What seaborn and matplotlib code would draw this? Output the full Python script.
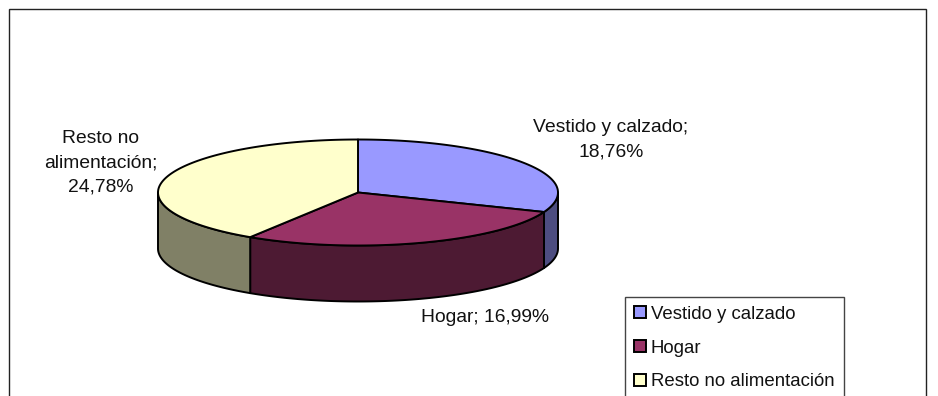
import numpy as np
import matplotlib
matplotlib.use("Agg")
import matplotlib.pyplot as plt
from matplotlib.patches import Patch, Polygon, Rectangle
import seaborn as sns

categories = ["Vestido y calzado", "Hogar", "Resto no alimentación"]
values = [18.76, 16.99, 24.78]
data_labels = ["Vestido y calzado;\n18,76%", "Hogar; 16,99%", "Resto no\nalimentación;\n24,78%"]
top_colors = ["#9999FF", "#993366", "#FFFFCC"]
side_colors = ["#4D4D80", "#4D1A33", "#808066"]

sns.set_theme(style="white")
plt.rcParams["font.family"] = ["Liberation Sans", "DejaVu Sans"]
palette = sns.color_palette(top_colors)

W, H = 938, 396
fig = plt.figure(figsize=(W / 100, H / 100), dpi=100, facecolor="white")
ax = fig.add_axes([0, 0, 1, 1])
ax.set_xlim(0, W)
ax.set_ylim(H, 0)
ax.axis("off")

FS = 13.4
LABEL_FS = 13.9
CX, CY, RX, RY, DEPTH = 358, 192.5, 200, 53, 56

ax.add_patch(Rectangle((9, 9), 917, 500, fc="white", ec="#222222", lw=1.0))


def rim(a0, a1, dy=0.0):
    t = np.radians(np.linspace(a0, a1, 120))
    return np.column_stack([CX + RX * np.sin(t), CY - RY * np.cos(t) + dy])


edges = np.concatenate([[0], np.cumsum(values)]) / np.sum(values) * 360

# walls, visible only on the front half of the rim
for i in range(len(values)):
    a0, a1 = max(edges[i], 90), min(edges[i + 1], 270)
    if a1 > a0:
        pts = np.vstack([rim(a0, a1), rim(a0, a1, DEPTH)[::-1]])
        ax.add_patch(Polygon(pts, closed=True, fc=side_colors[i], ec="black", lw=1.4, joinstyle="round"))

# top faces
for i in range(len(values)):
    pts = np.vstack([[[CX, CY]], rim(edges[i], edges[i + 1])])
    ax.add_patch(Polygon(pts, closed=True, fc=palette[i], ec="black", lw=1.4, joinstyle="round"))

text_kw = dict(ha="center", va="center", fontsize=LABEL_FS, color="#111111", linespacing=1.56)
ax.text(611, 140, data_labels[0], **text_kw)
ax.text(485, 317, data_labels[1], **text_kw)
ax.text(101, 162.5, data_labels[2], **text_kw)

handles = [Patch(fc=c, ec="black", lw=1.4) for c in palette]
leg = ax.legend(
    handles, categories, loc="upper left",
    bbox_to_anchor=(625 / W, 1 - 296.5 / H), bbox_transform=ax.transAxes,
    fontsize=FS, frameon=True, fancybox=False, framealpha=1, edgecolor="#444444",
    borderpad=0.5, labelspacing=0.9, handlelength=0.62, handleheight=0.62,
    handletextpad=0.27, borderaxespad=0, labelcolor="#111111",
)
leg.get_frame().set_linewidth(1.0)

fig.savefig("out.png", dpi=100)
